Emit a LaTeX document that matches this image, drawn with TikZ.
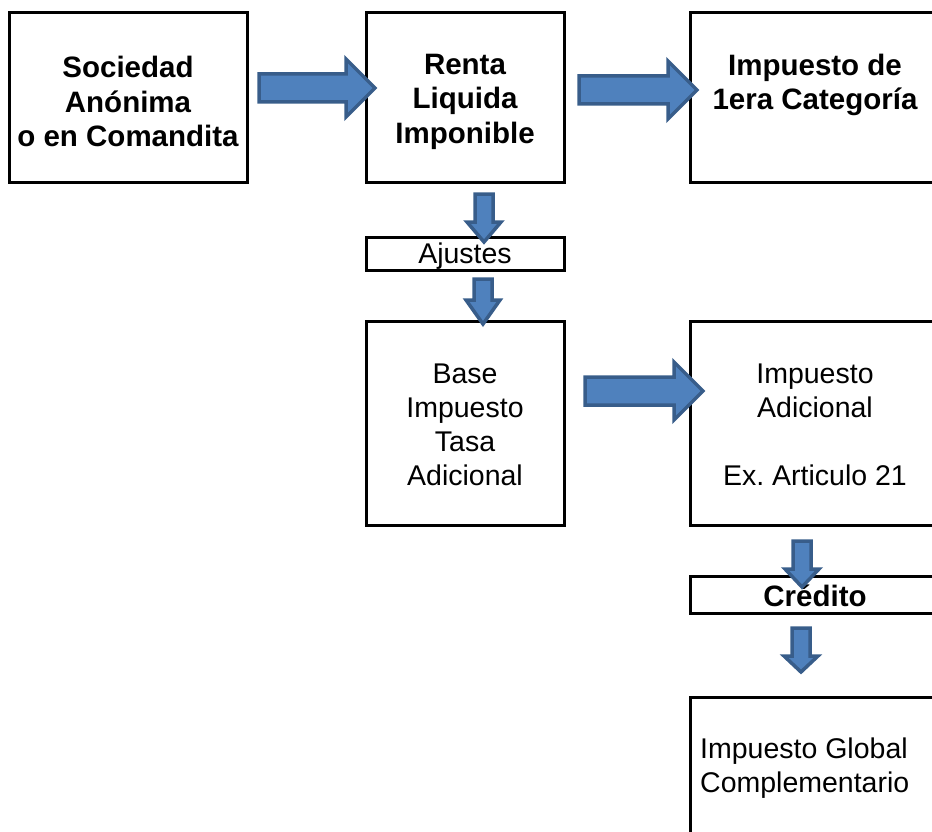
\documentclass[tikz,border=0pt]{standalone}
\usepackage{fontspec}
\setmainfont{Liberation Sans}
\frenchspacing
\definecolor{afill}{HTML}{4F81BD}
\definecolor{aline}{HTML}{385D8A}
\tikzset{
  box/.style={draw=black, line width=3pt, inner sep=0pt, rectangle},
  barrow/.style={fill=afill, draw=aline, line width=3.5pt, line join=miter},
  txt/.style={font=\fontsize{28.5}{34}\selectfont, align=center, inner sep=0pt},
  btxt/.style={txt, font=\fontsize{29.5}{34.5}\selectfont\bfseries},
}
% right block arrow: x start, x tip, y centre
\newcommand{\rblock}[3]{\draw[barrow] (#1,#3-14) -- (#2-29,#3-14) -- (#2-29,#3-29) -- (#2,#3) -- (#2-29,#3+29) -- (#2-29,#3+14) -- (#1,#3+14) -- cycle;}
% down block arrow: x centre, y top, y tip, head length
\newcommand{\dblock}[4]{\draw[barrow] (#1-9,#2) -- (#1-9,#3-#4) -- (#1-17,#3-#4) -- (#1,#3) -- (#1+17,#3-#4) -- (#1+9,#3-#4) -- (#1+9,#2) -- cycle;}
\begin{document}
\begin{tikzpicture}[x=1pt,y=-1pt]
\useasboundingbox (0,0) rectangle (932,832);
\clip (0,0) rectangle (932,832);
% boxes
\node[box, minimum width=238pt, minimum height=170pt] (soc) at (128,98) {};
\node[box, minimum width=198pt, minimum height=170pt] (renta) at (465,98) {};
\node[box, minimum width=260pt, minimum height=170pt] (primera) at (820,98) {};
\node[box, minimum width=198pt, minimum height=33pt] (ajustes) at (465,253.5) {};
\node[box, minimum width=198pt, minimum height=204pt] (base) at (465,423) {};
\node[box, minimum width=260pt, minimum height=204pt] (adic) at (820,423) {};
\node[box, minimum width=260pt, minimum height=37pt] (credito) at (820,594.5) {};
\node[box, minimum width=260pt, minimum height=160pt] (global) at (820,777) {};
% texts
\node[btxt] (socT) at (128,101.5) {Sociedad\\Anónima\\o en Comandita};
\node[btxt] (rentaT) at (465,101.5) {Renta\\Liquida\\Imponible};
\node[btxt] (primeraT) at (815,85) {Impuesto de\\1era Categoría};
\node[txt] (ajustesT) at (465,256) {Ajustes};
\node[txt] (baseT) at (465,425) {Base\\Impuesto\\Tasa\\Adicional};
\node[txt] (adicT) at (815,425) {Impuesto\\Adicional\\[34pt]Ex. Articulo 21};
\node[btxt] (creditoT) at (815,596) {Crédito};
\node[txt, align=left, anchor=west] (globalT) at (700,768) {Impuesto Global\\Complementario};
% block arrows
\rblock{259}{375}{88}
\rblock{579}{697}{90}
\rblock{585}{703}{391}
\dblock{484}{194}{242}{20}
\dblock{483}{279}{324}{24}
\dblock{802}{541}{587}{18}
\dblock{801}{628}{672}{16}
\end{tikzpicture}
\end{document}
